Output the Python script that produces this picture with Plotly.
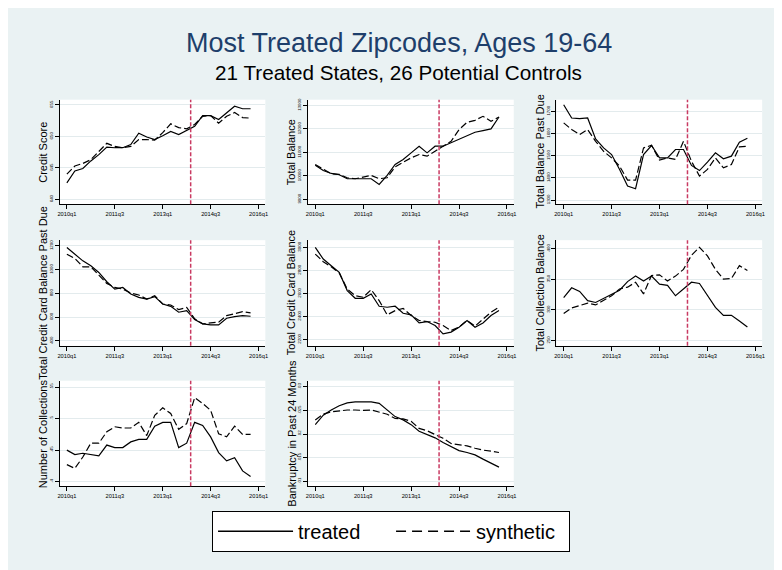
import plotly.graph_objects as go

# ---------------- data ----------------
quarters = [f"{y}q{q}" for y in range(2010, 2016) for q in range(1, 5)]  # 2010q1..2015q4
x_tick_vals = [0, 6, 12, 18, 24]
x_tick_text = ["2010q1", "2011q3", "2013q1", "2014q3", "2016q1"]
treat_line = 15.5

credit_treated = [642.6, 644.5, 644.9, 646.1, 647.1, 648.3, 648.2, 648.2, 648.7, 650.5, 649.9, 649.5,
                  650.1, 650.8, 650.3, 651.0, 651.6, 653.3, 653.3, 652.7, 653.7, 654.8, 654.4, 654.4]
credit_synth = [644.0, 645.3, 645.7, 646.3, 647.6, 648.9, 648.4, 648.2, 648.4, 649.5, 649.5, 649.4,
                650.6, 652.0, 651.4, 651.2, 651.9, 653.2, 653.3, 652.1, 653.2, 653.8, 653.0, 652.9]

balance_treated = [10456, 10230, 10102, 10046, 9876, 9876, 9890, 9876, 9636, 10018, 10484, 10696,
                   10979, 11261, 10979, 11261, 11261, 11403, 11544, 11686, 11855, 11926, 12000, 12505]
balance_synth = [10484, 10272, 10088, 10060, 9919, 9876, 9961, 10018, 9876, 9919, 10385, 10583,
                 10767, 10908, 10837, 11050, 11261, 11473, 11968, 12279, 12364, 12534, 12322, 12505]

pastdue_treated = [1730, 1670, 1667, 1670, 1576, 1535, 1505, 1438, 1363, 1351, 1505, 1546,
                   1490, 1490, 1528, 1528, 1456, 1433, 1471, 1513, 1486, 1498, 1561, 1579]
pastdue_synth = [1648, 1618, 1595, 1618, 1565, 1520, 1490, 1453, 1390, 1390, 1535, 1547,
                 1480, 1490, 1483, 1565, 1475, 1408, 1438, 1490, 1445, 1460, 1540, 1543]

ccpd_treated = [1186, 1130, 1074, 1032, 976, 898, 836, 850, 794, 766, 752, 772,
                710, 691, 641, 654, 579, 543, 534, 534, 590, 604, 612, 607]
ccpd_synth = [1130, 1094, 1024, 1024, 954, 884, 850, 836, 803, 786, 752, 780,
              710, 702, 663, 682, 585, 543, 551, 557, 612, 627, 646, 635]

cc_treated = [3000, 2899, 2841, 2783, 2625, 2558, 2558, 2596, 2489, 2480, 2489, 2428,
              2414, 2344, 2356, 2321, 2249, 2264, 2307, 2365, 2307, 2344, 2408, 2451]
cc_synth = [2942, 2876, 2832, 2778, 2639, 2581, 2567, 2633, 2538, 2414, 2451, 2471,
            2408, 2365, 2356, 2350, 2321, 2278, 2307, 2365, 2316, 2379, 2437, 2480]

collbal_treated = [320, 336, 330, 315, 312, 319, 326, 332, 346, 355, 347, 355,
                   342, 340, 323, 334, 345, 343, 323, 304, 291, 291, 282, 272]
collbal_synth = [294, 303, 307, 311, 308, 315, 323, 334, 337, 345, 326, 356,
                 357, 347, 355, 366, 389, 402, 388, 366, 350, 351, 372, 364]

ncoll_treated = [.450, .443, .445, .443, .441, .458, .454, .454, .463, .467, .467, .488,
                 .494, .494, .454, .461, .494, .489, .471, .446, .433, .438, .417, .408]
ncoll_synth = [.427, .421, .439, .461, .461, .479, .487, .485, .485, .494, .473, .505,
               .517, .508, .483, .492, .533, .524, .513, .476, .471, .488, .475, .475]

bk_treated = [.0220, .0240, .0251, .0260, .0266, .0268, .0268, .0268, .0265, .0251, .0237, .0230,
              .0220, .0206, .0199, .0192, .0182, .0173, .0165, .0161, .0156, .0147, .0138, .0130]
bk_synth = [.0230, .0242, .0247, .0249, .0251, .0251, .0250, .0251, .0247, .0242, .0233, .0232,
            .0227, .0212, .0207, .0199, .0191, .0180, .0177, .0175, .0170, .0166, .0164, .0161]

panel_titles = ["Credit Score", "Total Balance", "Total Balance Past Due",
                "Total Credit Card Balance Past Due", "Total Credit Card Balance",
                "Total Collection Balance", "Number of Collections",
                "Bankruptcy in Past 24 Months"]
panel_treated = [credit_treated, balance_treated, pastdue_treated, ccpd_treated,
                 cc_treated, collbal_treated, ncoll_treated, bk_treated]
panel_synth = [credit_synth, balance_synth, pastdue_synth, ccpd_synth,
               cc_synth, collbal_synth, ncoll_synth, bk_synth]
y_tick_vals = [[640, 645, 650, 655], [9000, 10000, 11000, 12000, 13000],
               [1300, 1400, 1500, 1600, 1700], [400, 600, 800, 1000, 1200],
               [2200, 2400, 2600, 2800, 3000], [250, 300, 350, 400],
               [.40, .45, .50, .55], [.010, .015, .020, .025, .030]]
y_tick_text = [["640", "645", "650", "655"], ["9000", "10000", "11000", "12000", "13000"],
               ["1300", "1400", "1500", "1600", "1700"], ["400", "600", "800", "1000", "1200"],
               ["2200", "2400", "2600", "2800", "3000"], ["250", "300", "350", "400"],
               [".4", ".45", ".5", ".55"], [".01", ".015", ".02", ".025", ".03"]]
# visible y extents of each panel's plot region
y_ranges = [[639.2, 655.84], [8788, 13242], [1280.7, 1752.6], [358, 1248],
            [2145, 3063], [241.4, 413.5], [.3926, .560], [.00894, .0313]]

# ---------------- layout geometry (pixels) ----------------
W, H = 782, 570
col_px = [(50, 257), (300, 507), (550, 757)]
row_px = [(90, 195), (231, 337), (372, 478)]
FONT = "Liberation Sans, Arial, Helvetica, sans-serif"
RED = "#c93a62"

xs = list(range(len(quarters)))
fig = go.Figure()
layout = dict(
    width=W, height=H,
    margin=dict(l=0, r=0, t=0, b=0),
    paper_bgcolor="#eaf2f3", plot_bgcolor="white",
    font=dict(family=FONT, color="black"),
    showlegend=True,
)
shapes, annotations = [], []

for k in range(8):
    r, c = divmod(k, 3)
    n = k + 1
    sfx = "" if n == 1 else str(n)
    xa, ya = f"x{sfx}", f"y{sfx}"
    x0, x1 = col_px[c]
    y0, y1 = row_px[r]

    fig.add_trace(go.Scatter(x=xs, y=panel_treated[k], mode="lines", xaxis=xa, yaxis=ya,
                             line=dict(color="black", width=1.2), showlegend=False,
                             name="treated"))
    fig.add_trace(go.Scatter(x=xs, y=panel_synth[k], mode="lines", xaxis=xa, yaxis=ya,
                             line=dict(color="black", width=1.2, dash="7px,3px"),
                             showlegend=False, name="synthetic"))

    layout[f"xaxis{sfx}"] = dict(
        domain=[x0 / W, x1 / W], anchor=ya, range=[-0.9, 24.85],
        tickvals=x_tick_vals, ticktext=x_tick_text, tickfont=dict(size=5.7),
        ticks="outside", ticklen=4, tickcolor="black", showline=True,
        linecolor="black", linewidth=1, showgrid=False, zeroline=False,
    )
    layout[f"yaxis{sfx}"] = dict(
        domain=[1 - y1 / H, 1 - y0 / H], anchor=xa, range=y_ranges[k],
        tickvals=y_tick_vals[k], ticktext=y_tick_text[k], tickfont=dict(size=4.4),
        tickangle=-90, ticks="outside", ticklen=4, tickcolor="black", showline=True,
        linecolor="black", linewidth=1, showgrid=True, gridcolor="#e3ebed",
        gridwidth=1, zeroline=False,
    )
    shapes.append(dict(type="line", xref=xa, yref=f"{ya} domain", x0=treat_line,
                       x1=treat_line, y0=0, y1=1,
                       line=dict(color=RED, width=1.5, dash="4px,2px")))
    annotations.append(dict(text=panel_titles[k], textangle=-90, xref="paper", yref="paper",
                            x=(x0 - 17) / W, y=1 - (y0 + y1) / 2 / H, xanchor="center",
                            yanchor="middle", showarrow=False,
                            font=dict(size=11, color="black")))

# legend-only entries
fig.add_trace(go.Scatter(x=[None], y=[None], mode="lines", name="treated",
                         line=dict(color="black", width=1.5)))
fig.add_trace(go.Scatter(x=[None], y=[None], mode="lines", name="synthetic",
                         line=dict(color="black", width=1.5, dash="10px,6px")))

annotations.append(dict(text="Most Treated Zipcodes, Ages 19-64", xref="paper", yref="paper",
                        x=0.5, y=1 - 33 / H, xanchor="center", yanchor="middle",
                        showarrow=False, font=dict(size=27, color="#1e3f6b")))
annotations.append(dict(text="21 Treated States, 26 Potential Controls", xref="paper",
                        yref="paper", x=0.5, y=1 - 63 / H, xanchor="center",
                        yanchor="middle", showarrow=False,
                        font=dict(size=20.7, color="black")))

layout["shapes"] = shapes
layout["annotations"] = annotations
layout["legend"] = dict(orientation="h", x=0.5 - 7.5 / W, xanchor="center", y=1 - 523 / H,
                        yanchor="middle", bgcolor="white", bordercolor="black",
                        borderwidth=1, font=dict(size=20, color="black"),
                        itemwidth=75, entrywidth=88, traceorder="normal")
fig.update_layout(**layout)
fig.write_html("out.html")
